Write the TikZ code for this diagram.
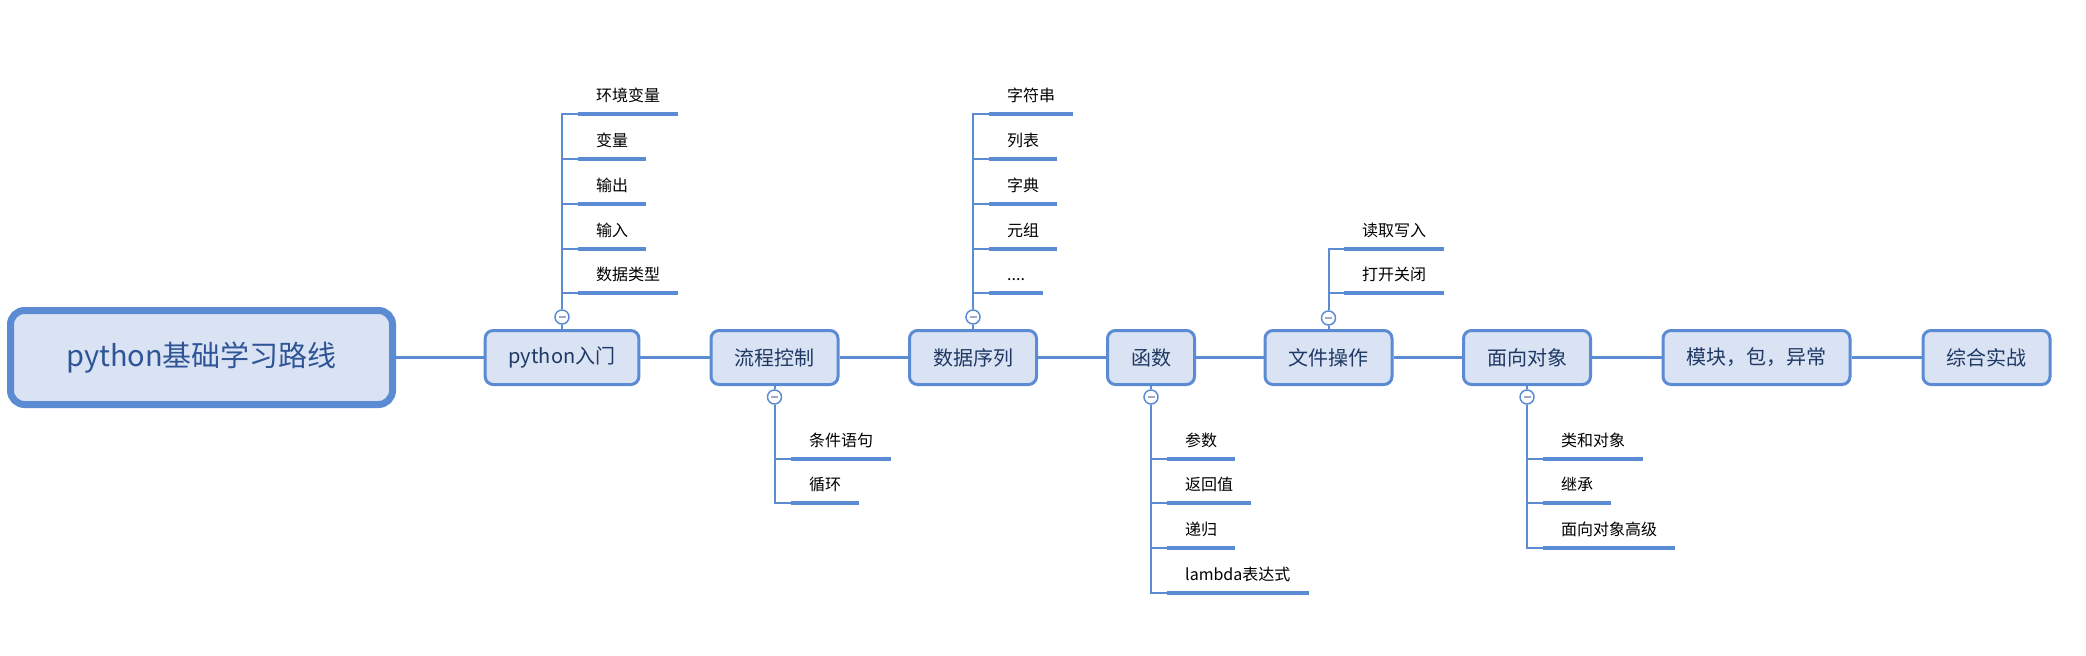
\documentclass[tikz,border=0pt]{standalone}
\usepackage{fontspec}
\setmainfont{Noto Sans CJK SC}
\usepackage{tikz}
\definecolor{boxfill}{HTML}{DAE3F3}
\definecolor{boxline}{HTML}{5B8BD3}
\definecolor{boxtext}{HTML}{1F3864}
\definecolor{roottext}{HTML}{2F5597}
\definecolor{minusgray}{HTML}{A3A9CB}
\tikzset{
    every node/.style={font=\fontsize{16}{18}\selectfont},
    root/.style={rectangle, rounded corners=14pt, draw=boxline, fill=boxfill,
    	line width=7pt, minimum width=382pt, minimum height=94pt,
    	text=roottext, font=\fontsize{29}{32}\selectfont},
    topic/.style={rectangle, rounded corners=8pt, draw=boxline, fill=boxfill,
    	line width=3pt, inner xsep=23.5pt, minimum height=54pt,
    	text=boxtext, font=\fontsize{20}{22}\selectfont},
    fold/.style={circle, draw=boxline, fill=white, line width=1.5pt,
    	minimum size=14pt, inner sep=0pt,
    	path picture={\draw[minusgray, line width=2pt]
    		([xshift=-3.5pt]path picture bounding box.center) --
    		([xshift=3.5pt]path picture bounding box.center);}},
    leaf/.style={anchor=south west, inner xsep=18pt, inner ysep=12pt,
    	text depth=0pt, append after command={(\tikzlastnode.south west)
    	edge[draw=boxline, line width=4pt] (\tikzlastnode.south east)}},
    twig/.style={draw=boxline, line width=2pt}
}
\tikzset{
    every edge/.append style={draw=boxline, line width=2.5pt}
}

\begin{document}
\begin{tikzpicture}[x=1pt, y=-1pt]
	\useasboundingbox (0,0) rectangle (2086,656);
	\node (0) [root] at (201.5, 357.5) {python基础学习路线};
	\node (1) [topic] at (562, 357.5) {python入门};
	\node (2) [topic] at (774.5, 357.5) {流程控制};
	\node (3) [topic] at (973, 357.5) {数据序列};
	\node (4) [topic] at (1151, 357.5) {函数};
	\node (5) [topic] at (1328.5, 357.5) {文件操作};
	\node (6) [topic] at (1527, 357.5) {面向对象};
	\node (7) [topic] at (1756.5, 357.5) {模块，包，异常};
	\node (8) [topic] at (1986.5, 357.5) {综合实战};
	
	\draw (0) edge (1); \draw (1) edge (2); \draw (2) edge (3);
	\draw (3) edge (4); \draw (4) edge (5); \draw (5) edge (6);
	\draw (6) edge (7); \draw (7) edge (8);
	
	% fold buttons
	\node (c1) [fold] at (562, 317) {};
	\node (c2) [fold] at (774.5, 397) {};
	\node (c3) [fold] at (973, 317) {};
	\node (c4) [fold] at (1151, 397) {};
	\node (c5) [fold] at (1328.5, 318) {};
	\node (c6) [fold] at (1527, 397) {};
	\draw (1) edge [twig] (c1); \draw (2) edge [twig] (c2);
	\draw (3) edge [twig] (c3); \draw (4) edge [twig] (c4);
	\draw (5) edge [twig] (c5); \draw (6) edge [twig] (c6);
	
	% subtopics
	\node (11) [leaf] at (578, 114) {环境变量};
	\node (12) [leaf] at (578, 159) {变量};
	\node (13) [leaf] at (578, 204) {输出};
	\node (14) [leaf] at (578, 249) {输入};
	\node (15) [leaf] at (578, 293) {数据类型};
	\node (21) [leaf] at (791, 459) {条件语句};
	\node (22) [leaf] at (791, 503) {循环};
	\node (31) [leaf] at (989, 114) {字符串};
	\node (32) [leaf] at (989, 159) {列表};
	\node (33) [leaf] at (989, 204) {字典};
	\node (34) [leaf] at (989, 249) {元组};
	\node (35) [leaf] at (989, 293) {....};
	\node (41) [leaf] at (1167, 459) {参数};
	\node (42) [leaf] at (1167, 503) {返回值};
	\node (43) [leaf] at (1167, 548) {递归};
	\node (44) [leaf] at (1167, 593) {lambda表达式};
	\node (51) [leaf] at (1344, 249) {读取写入};
	\node (52) [leaf] at (1344, 293) {打开关闭};
	\node (61) [leaf] at (1543, 459) {类和对象};
	\node (62) [leaf] at (1543, 503) {继承};
	\node (63) [leaf] at (1543, 548) {面向对象高级};
	
	\draw [twig] (c1) |- (11.south west); \draw [twig] (c1) |- (12.south west);
	\draw [twig] (c1) |- (13.south west); \draw [twig] (c1) |- (14.south west);
	\draw [twig] (c1) |- (15.south west);
	\draw [twig] (c2) |- (21.south west); \draw [twig] (c2) |- (22.south west);
	\draw [twig] (c3) |- (31.south west); \draw [twig] (c3) |- (32.south west);
	\draw [twig] (c3) |- (33.south west); \draw [twig] (c3) |- (34.south west);
	\draw [twig] (c3) |- (35.south west);
	\draw [twig] (c4) |- (41.south west); \draw [twig] (c4) |- (42.south west);
	\draw [twig] (c4) |- (43.south west); \draw [twig] (c4) |- (44.south west);
	\draw [twig] (c5) |- (51.south west); \draw [twig] (c5) |- (52.south west);
	\draw [twig] (c6) |- (61.south west); \draw [twig] (c6) |- (62.south west);
	\draw [twig] (c6) |- (63.south west);
\end{tikzpicture}
\end{document}
